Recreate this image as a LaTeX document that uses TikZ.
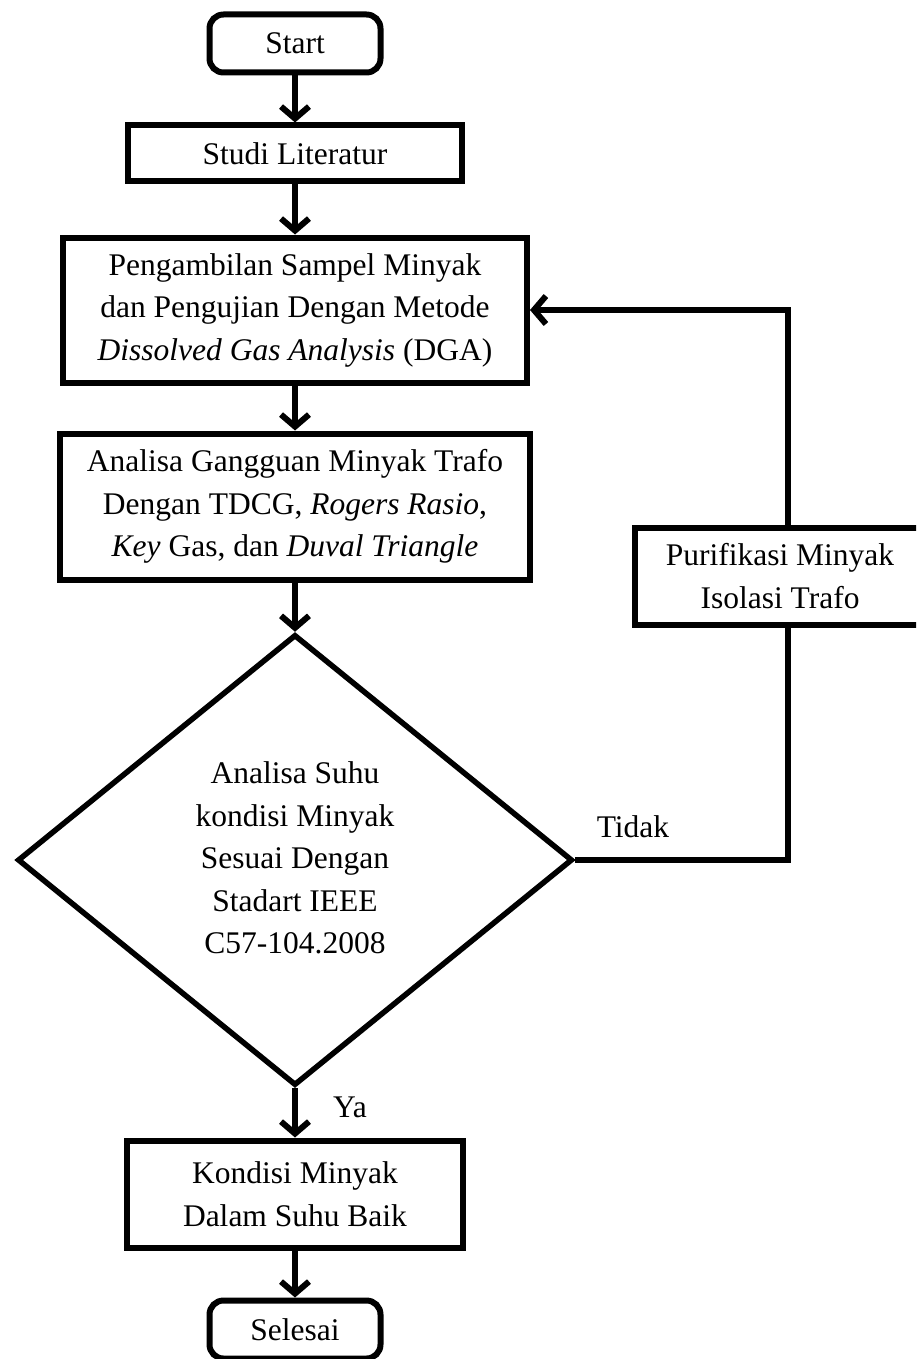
\documentclass[tikz,border=0pt]{standalone}
\usepackage{fontspec}
\setmainfont{Liberation Serif}
\usetikzlibrary{shapes.geometric,arrows.meta}
\begin{document}
\begin{tikzpicture}[x=1pt,y=-1pt,
  font=\fontsize{31.5}{42.5}\selectfont,
  box/.style={draw, line width=6pt, rectangle, align=center, inner sep=0pt},
  term/.style={box, rounded corners=14pt},
  decision/.style={draw, diamond, line width=5.5pt, align=center, inner sep=0pt,
    minimum width=555pt, minimum height=451pt},
  arr/.style={line width=6pt, -{Straight Barb[length=12pt,width=28pt]}},
  conn/.style={line width=6pt},
  lbl/.style={inner sep=0pt}]
\useasboundingbox (0,0) rectangle (916,1359);
\clip (0,0) rectangle (916,1359);

\node[term, minimum width=171pt, minimum height=58pt] (start) at (295,43.5) {Start};
\node[box, minimum width=334pt, minimum height=56pt] (studi) at (295,153.5) {Studi Literatur};
\node[box, minimum width=464pt, minimum height=145pt] (peng) at (295,310)
  {Pengambilan Sampel Minyak\\dan Pengujian Dengan Metode\\\textit{Dissolved Gas Analysis} (DGA)};
\node[box, minimum width=470pt, minimum height=146pt] (ana) at (295,506.5)
  {Analisa Gangguan Minyak Trafo\\Dengan TDCG, \textit{Rogers Rasio},\\\textit{Key} Gas, dan \textit{Duval Triangle}};
\node[decision] (dec) at (295,860)
  {\raisebox{-7pt}{\begin{tabular}{@{}c@{}}Analisa Suhu\\kondisi Minyak\\Sesuai Dengan\\Stadart IEEE\\C57-104.2008\end{tabular}}};
\node[box, minimum width=336pt, minimum height=107pt] (kon) at (295,1194)
  {Kondisi Minyak\\Dalam Suhu Baik};
\node[term, minimum width=171pt, minimum height=58pt] (sel) at (295,1329.5) {Selesai};
\node[box, minimum width=291pt, minimum height=97pt] (pur) at (780,576)
  {Purifikasi Minyak\\Isolasi Trafo};

\node[lbl] (tidak) at (633,827) {Tidak};
\node[lbl] (ya) at (350,1107) {Ya};

\coordinate (c1) at (788,0);

\draw[arr] (start) -- (studi);
\draw[arr] (studi) -- (peng);
\draw[arr] (peng) -- (ana);
\draw[arr] (ana) -- (dec.north);
\draw[arr] (dec.south) -- (kon);
\draw[arr] (kon) -- (sel);
\draw[conn] (dec.east) -- (dec.east -| c1) -- (c1 |- pur.south);
\draw[arr] (c1 |- pur.north) |- (peng.east);
\end{tikzpicture}
\end{document}
